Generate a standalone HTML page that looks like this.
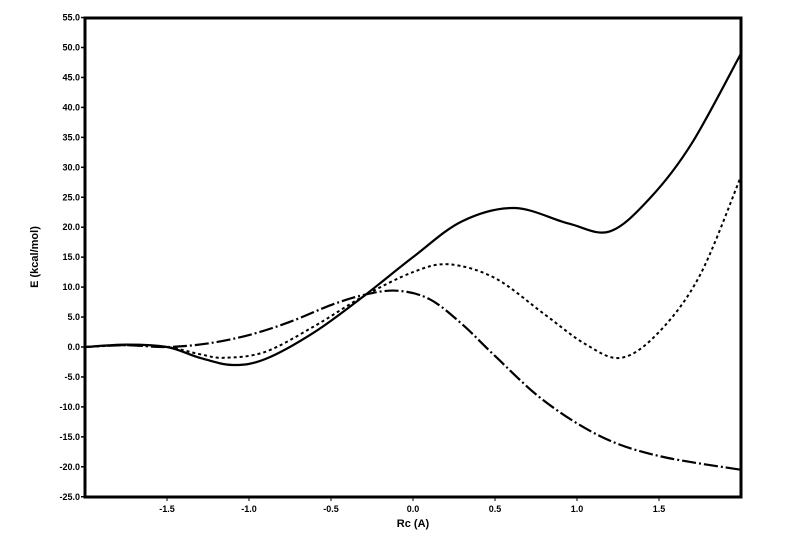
<!DOCTYPE html>
<html><head><meta charset="utf-8"><style>
html,body{margin:0;padding:0;background:#fff}
svg text{font-family:"Liberation Sans",sans-serif;font-weight:bold;fill:#000}
</style></head><body>
<svg id="s" width="801" height="542" viewBox="0 0 801 542" xmlns="http://www.w3.org/2000/svg">
<rect x="85" y="18" width="656" height="479" fill="none" stroke="#000" stroke-width="3"/>
<g id="yt" font-size="9" text-anchor="end"></g>
<g id="xt" font-size="9" text-anchor="middle"></g>
<text x="413" y="527" font-size="11" text-anchor="middle">Rc (A)</text>
<text transform="translate(38,257) rotate(-90)" font-size="11" text-anchor="middle">E (kcal/mol)</text>
<path id="c1" fill="none" stroke="#000" stroke-width="2.2"/>
<path id="c2" fill="none" stroke="#000" stroke-width="2" stroke-dasharray="3,3"/>
<path id="c3" fill="none" stroke="#000" stroke-width="2.2" stroke-dasharray="14,3,2,3"/>
</svg>
<script>
var X=function(x){return 413+164*x},Y=function(y){return 347-5.99*y};
var ns="http://www.w3.org/2000/svg",yt=document.getElementById('yt'),xt=document.getElementById('xt');
for(var v=-25;v<=55;v+=5){var t=document.createElementNS(ns,'text');t.setAttribute('x',80);t.setAttribute('y',Y(v)+3);t.textContent=v.toFixed(1);yt.appendChild(t);
var l=document.createElementNS(ns,'line');l.setAttribute('x1',81);l.setAttribute('x2',85);l.setAttribute('y1',Y(v));l.setAttribute('y2',Y(v));l.setAttribute('stroke','#000');l.setAttribute('stroke-width',1.5);yt.appendChild(l);}
[-1.5,-1,-0.5,0,0.5,1,1.5].forEach(function(v){var t=document.createElementNS(ns,'text');t.setAttribute('x',X(v));t.setAttribute('y',512);t.textContent=v.toFixed(1);xt.appendChild(t);
var l=document.createElementNS(ns,'line');l.setAttribute('x1',X(v));l.setAttribute('x2',X(v));l.setAttribute('y1',497);l.setAttribute('y2',501);l.setAttribute('stroke','#000');xt.appendChild(l);});
function path(p){var q=p.map(function(a){return [X(a[0]),Y(a[1])]});var d='M'+q[0][0]+','+q[0][1];
for(var i=0;i<q.length-1;i++){var p0=q[i-1]||q[i],p1=q[i],p2=q[i+1],p3=q[i+2]||p2;
d+=' C'+(p1[0]+(p2[0]-p0[0])/6)+','+(p1[1]+(p2[1]-p0[1])/6)+' '+(p2[0]-(p3[0]-p1[0])/6)+','+(p2[1]-(p3[1]-p1[1])/6)+' '+p2[0]+','+p2[1];}return d;}
document.getElementById('c1').setAttribute('d',path([[-2,0],[-1.75,0.4],[-1.5,0],[-1.3,-1.8],[-1.1,-3],[-0.9,-2],[-0.6,2.5],[-0.3,8.5],[0,15],[0.3,21],[0.62,23.2],[0.95,20.6],[1.2,19.3],[1.45,25],[1.7,34],[2,49]]));
document.getElementById('c2').setAttribute('d',path([[-2,0],[-1.75,0.3],[-1.5,0],[-1.3,-1.2],[-1.15,-1.8],[-0.9,-0.8],[-0.6,3.5],[-0.3,8.5],[0,12.5],[0.22,13.8],[0.5,11.5],[0.8,5.5],[1.05,0.5],[1.27,-1.8],[1.5,2.5],[1.75,12],[2,28.5]]));
document.getElementById('c3').setAttribute('d',path([[-2,0],[-1.75,0.3],[-1.5,0],[-1.25,0.6],[-1,2],[-0.75,4.2],[-0.5,7],[-0.3,8.7],[-0.1,9.4],[0.1,8],[0.3,3.8],[0.5,-1.5],[0.8,-9],[1.15,-15],[1.5,-18.2],[2,-20.5]]));
</script>
</body></html>
